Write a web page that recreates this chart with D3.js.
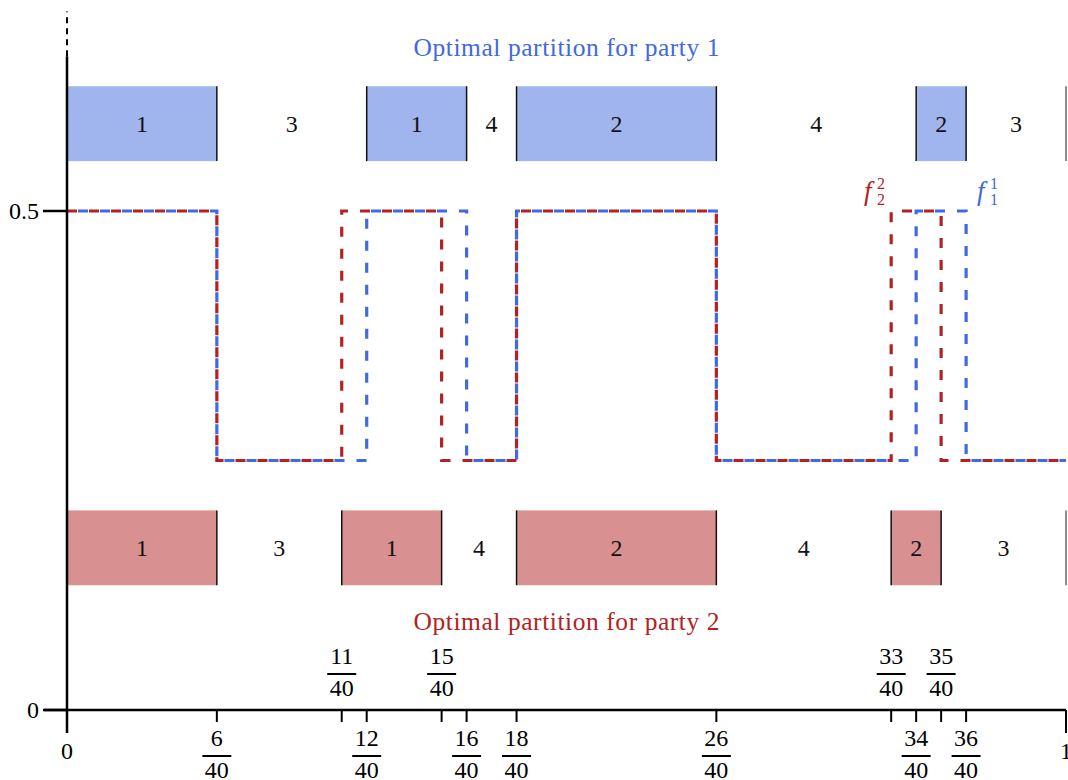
<!DOCTYPE html>
<html><head><meta charset="utf-8">
<script src="https://cdn.jsdelivr.net/npm/d3@7"></script>
<style>body{margin:0;background:#fff}svg{display:block}text{font-family:"Liberation Serif","Times New Roman",serif}</style>
</head><body><svg id="c" width="1068" height="780"></svg>
<script>
// ---- data (positions in 40ths of the unit interval) ----
const denom = 40;
const breaksParty1 = [0, 6, 12, 16, 18, 26, 34, 36, 40];
const labelsParty1 = ["1", "3", "1", "4", "2", "4", "2", "3"];
const breaksParty2 = [0, 6, 11, 15, 18, 26, 33, 35, 40];
const labelsParty2 = ["1", "3", "1", "4", "2", "4", "2", "3"];
const f1Values = [0.5, 0.25, 0.5, 0.25, 0.5, 0.25, 0.5, 0.25]; // f_1^1 on party-1 pieces
const f2Values = [0.5, 0.25, 0.5, 0.25, 0.5, 0.25, 0.5, 0.25]; // f_2^2 on party-2 pieces
const ticksBelow = [0, 6, 12, 16, 18, 26, 34, 36, 40];
const ticksAbove = [11, 15, 33, 35];
const yTicks = [0, 0.5];
const titles = ["Optimal partition for party 1", "Optimal partition for party 2"];

const blue = "#4169e1", red = "#b22222";
const blueFill = "#a0b4ee", redFill = "#d89090";

const svg = d3.select("#c");
const x = d3.scaleLinear().domain([0, 1]).range([67, 1066]);
const y = d3.scaleLinear().domain([0, 0.5]).range([710, 211]);
const FS = 24;

// ---- partition bands ----
function band(breaks, labels, fill, y0, y1) {
  const g = svg.append("g");
  const segs = labels.map((l, i) => ({a: breaks[i] / denom, b: breaks[i + 1] / denom, l}));
  g.selectAll("rect").data(segs.filter(s => s.l === "1" || s.l === "2")).join("rect")
    .attr("x", d => x(d.a)).attr("width", d => x(d.b) - x(d.a))
    .attr("y", y(y1)).attr("height", y(y0) - y(y1)).attr("fill", fill);
  g.selectAll("line").data(breaks.slice(1)).join("line")
    .attr("x1", d => x(d / denom)).attr("x2", d => x(d / denom))
    .attr("y1", y(y1)).attr("y2", y(y0))
    .attr("stroke", (d, i) => i === breaks.length - 2 ? "#666" : "#111").attr("stroke-width", 1.5);
  g.selectAll("text").data(segs).join("text")
    .attr("x", d => x((d.a + d.b) / 2)).attr("y", y((y0 + y1) / 2))
    .attr("dy", "0.35em").attr("text-anchor", "middle").attr("font-size", FS).attr("fill", "#111")
    .text(d => d.l);
}
band(breaksParty1, labelsParty1, blueFill, 0.55, 0.625);
band(breaksParty2, labelsParty2, redFill, 0.125, 0.2);

// titles
[[titles[0], 0.664, blue], [titles[1], 0.089, red]].forEach(([t, v, c]) => {
  svg.append("text").attr("x", x(0.5)).attr("y", y(v)).attr("dy", "0.35em")
    .attr("text-anchor", "middle").attr("font-size", 25.5).attr("fill", c)
    .attr("textLength", 306).attr("lengthAdjust", "spacing").text(t);
});

// ---- step functions ----
function stepPts(breaks, vals) {
  const pts = [];
  vals.forEach((v, i) => { pts.push([breaks[i] / denom, v]); pts.push([breaks[i + 1] / denom, v]); });
  return pts;
}
const line = d3.line().x(d => x(d[0])).y(d => y(d[1]));
svg.append("path").attr("d", line(stepPts(breaksParty1, f1Values))).attr("fill", "none")
  .attr("stroke", blue).attr("stroke-width", 3.2).attr("stroke-dasharray", "10,12").attr("stroke-dashoffset", 11);
svg.append("path").attr("d", line(stepPts(breaksParty2, f2Values))).attr("fill", "none")
  .attr("stroke", red).attr("stroke-width", 3.2).attr("stroke-dasharray", "10,12");

// function labels
function fLabel(xp, yp, sub, sup, col) {
  const g = svg.append("g").attr("fill", col);
  g.append("text").attr("x", xp).attr("y", yp).attr("font-size", 27).attr("font-style", "italic").text("f");
  g.append("text").attr("x", xp + 13).attr("y", yp + 5).attr("font-size", 16).text(sub);
  g.append("text").attr("x", xp + 13).attr("y", yp - 11).attr("font-size", 16).text(sup);
}
fLabel(864, 200, "2", "2", red);
fLabel(977, 200, "1", "1", blue);

// ---- axes ----
const ax = svg.append("g").attr("stroke", "#000");
ax.append("line").attr("x1", 44).attr("x2", x(1)).attr("y1", y(0)).attr("y2", y(0)).attr("stroke-width", 2.5);
ax.append("line").attr("x1", x(0)).attr("x2", x(0)).attr("y1", y(0) + 23).attr("y2", y(0.655)).attr("stroke-width", 2.5);
ax.append("line").attr("x1", x(0)).attr("x2", x(0)).attr("y1", y(0.655)).attr("y2", y(0.7))
  .attr("stroke-width", 2).attr("stroke-dasharray", "6,5");
// y ticks
yTicks.forEach(v => {
  ax.append("line").attr("x1", 43).attr("x2", x(0)).attr("y1", y(v)).attr("y2", y(v)).attr("stroke-width", 2.5);
  svg.append("text").attr("x", 39).attr("y", y(v)).attr("dy", "0.35em").attr("text-anchor", "end")
    .attr("font-size", FS).text(v === 0 ? "0" : "0.5");
});
// x ticks
ticksBelow.concat(ticksAbove).forEach(t => {
  const long = (t === 0 || t === denom);
  ax.append("line").attr("x1", x(t / denom)).attr("x2", x(t / denom)).attr("y1", y(0))
    .attr("y2", y(0) + (long ? 23 : 12)).attr("stroke-width", 2);
});
function frac(xc, top, num) {
  svg.append("text").attr("x", xc).attr("y", top + 16).attr("text-anchor", "middle").attr("font-size", FS).text(num);
  svg.append("line").attr("x1", xc - 14.5).attr("x2", xc + 14.5).attr("y1", top + 26).attr("y2", top + 26)
    .attr("stroke", "#000").attr("stroke-width", 2);
  svg.append("text").attr("x", xc).attr("y", top + 48).attr("text-anchor", "middle").attr("font-size", FS).text(denom);
}
ticksBelow.forEach(t => {
  if (t === 0 || t === denom) {
    svg.append("text").attr("x", x(t / denom)).attr("y", 759).attr("text-anchor", "middle")
      .attr("font-size", FS).text(t === 0 ? "0" : "1");
  } else frac(x(t / denom), 730, t);
});
ticksAbove.forEach(t => frac(x(t / denom), 648, t));
</script></body></html>
